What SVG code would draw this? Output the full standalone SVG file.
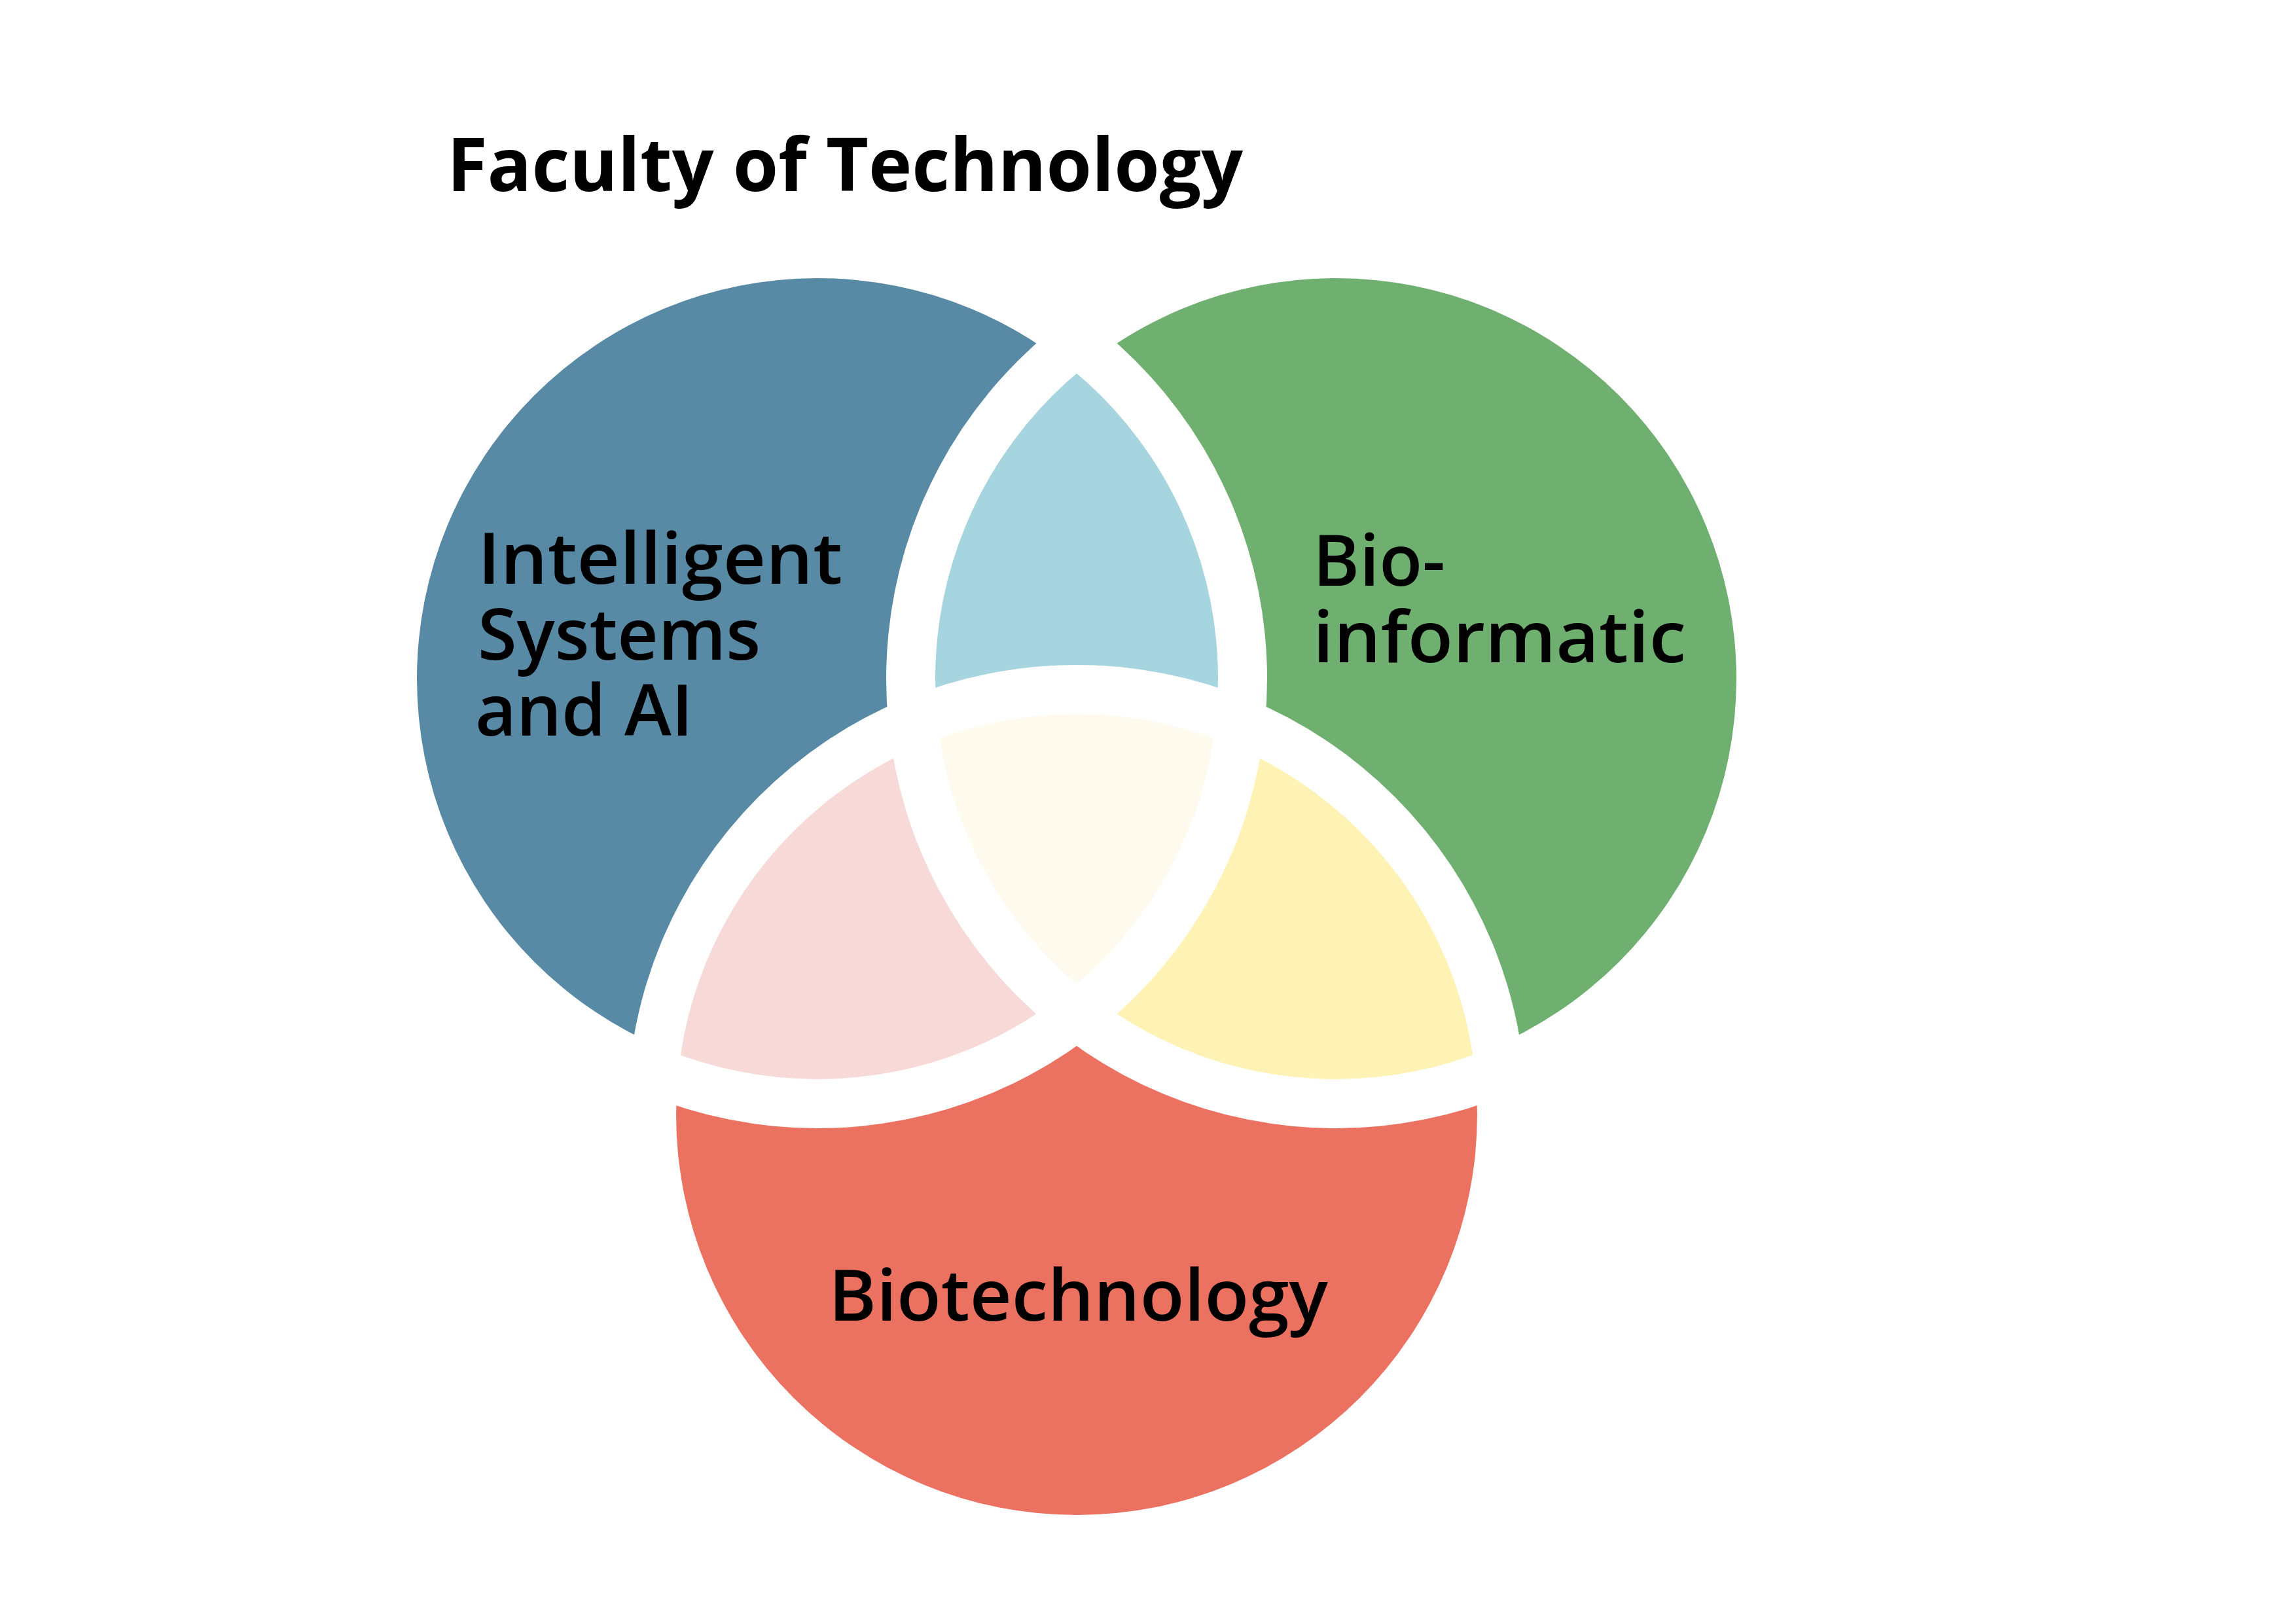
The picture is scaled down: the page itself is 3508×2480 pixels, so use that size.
<svg xmlns="http://www.w3.org/2000/svg" width="3508" height="2480" viewBox="0 0 3508 2480">
<style>
.lbl{font-family:"Open Sans",Lato,"Liberation Sans",sans-serif;font-size:109px;font-weight:600;fill:#000;font-variant-ligatures:none;}
.title{font-family:"Open Sans",Lato,"Liberation Sans",sans-serif;font-size:113px;font-weight:700;fill:#000;font-variant-ligatures:none;}
</style>
<defs>
<clipPath id="cL"><circle cx="1249" cy="1037" r="612"/></clipPath>
<clipPath id="cR"><circle cx="2041" cy="1037" r="612"/></clipPath>
<mask id="mL" maskUnits="userSpaceOnUse" x="0" y="0" width="3508" height="2480"><rect width="3508" height="2480" fill="#fff"/><circle cx="1249" cy="1037" r="687" fill="#000"/></mask>
<mask id="mR" maskUnits="userSpaceOnUse" x="0" y="0" width="3508" height="2480"><rect width="3508" height="2480" fill="#fff"/><circle cx="2041" cy="1037" r="687" fill="#000"/></mask>
<mask id="mB" maskUnits="userSpaceOnUse" x="0" y="0" width="3508" height="2480"><rect width="3508" height="2480" fill="#fff"/><circle cx="1645" cy="1703" r="687" fill="#000"/></mask>
<mask id="mRB" maskUnits="userSpaceOnUse" x="0" y="0" width="3508" height="2480"><rect width="3508" height="2480" fill="#fff"/><circle cx="2041" cy="1037" r="687" fill="#000"/><circle cx="1645" cy="1703" r="687" fill="#000"/></mask>
<mask id="mLB" maskUnits="userSpaceOnUse" x="0" y="0" width="3508" height="2480"><rect width="3508" height="2480" fill="#fff"/><circle cx="1249" cy="1037" r="687" fill="#000"/><circle cx="1645" cy="1703" r="687" fill="#000"/></mask>
<mask id="mLR" maskUnits="userSpaceOnUse" x="0" y="0" width="3508" height="2480"><rect width="3508" height="2480" fill="#fff"/><circle cx="1249" cy="1037" r="687" fill="#000"/><circle cx="2041" cy="1037" r="687" fill="#000"/></mask>
</defs>
<rect width="3508" height="2480" fill="#fff"/>
<text class="title" x="683" y="292" textLength="1216" lengthAdjust="spacingAndGlyphs">Faculty of Technology</text>
<g id="node-ai">
<circle cx="1249" cy="1037" r="612" fill="#5889A5" mask="url(#mRB)"/>
<text class="lbl" x="730" y="892" textLength="557" lengthAdjust="spacingAndGlyphs">Intelligent</text>
<text class="lbl" x="730" y="1008" textLength="432" lengthAdjust="spacingAndGlyphs">Systems</text>
<text class="lbl" x="726" y="1124" textLength="333" lengthAdjust="spacingAndGlyphs">and AI</text>
</g>
<g id="node-bioinformatic">
<circle cx="2041" cy="1037" r="612" fill="#6FB070" mask="url(#mLB)"/>
<text class="lbl" x="2006" y="895" textLength="202" lengthAdjust="spacingAndGlyphs">Bio-</text>
<text class="lbl" x="2006" y="1012" textLength="570" lengthAdjust="spacingAndGlyphs">informatic</text>
</g>
<g id="node-biotechnology">
<circle cx="1645" cy="1703" r="612" fill="#EB7161" mask="url(#mLR)"/>
<text class="lbl" x="1266" y="2018" textLength="763" lengthAdjust="spacingAndGlyphs">Biotechnology</text>
</g>
<g id="node-ai-bioinformatic" mask="url(#mB)">
<circle cx="2041" cy="1037" r="612" fill="#A6D4DF" clip-path="url(#cL)"/>
</g>
<g id="node-ai-biotechnology" mask="url(#mR)">
<circle cx="1645" cy="1703" r="612" fill="#F7D9D8" clip-path="url(#cL)"/>
</g>
<g id="node-bioinformatic-biotechnology" mask="url(#mL)">
<circle cx="1645" cy="1703" r="612" fill="#FEF2B5" clip-path="url(#cR)"/>
</g>
<g id="node-center" clip-path="url(#cL)">
<circle cx="1645" cy="1703" r="612" fill="#FEFBEE" clip-path="url(#cR)"/>
</g>
<g id="connectors"/>
</svg>
